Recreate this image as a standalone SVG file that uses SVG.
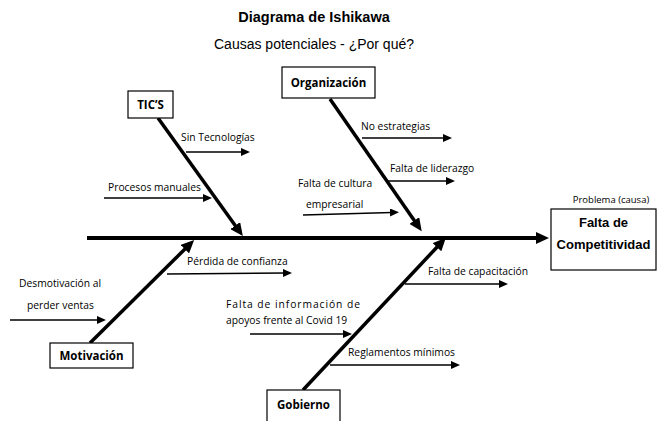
<svg xmlns="http://www.w3.org/2000/svg" width="657" height="421" viewBox="0 0 657 421">
<style>
.title{font-family:"Liberation Sans",Arial,sans-serif;font-size:14.5px;font-weight:bold;fill:#000}
.sub{font-family:"Liberation Sans",Arial,sans-serif;font-size:14px;fill:#000}
.lbl{font-family:"Open Sans","Noto Sans",sans-serif;font-size:10.3px;fill:#000}
.box{fill:#fff;stroke:#000;stroke-width:1.2}
.cat{font-family:"Open Sans","Noto Sans",sans-serif;font-size:11.5px;font-weight:bold;fill:#000}
.eff{font-family:"Liberation Sans",Arial,sans-serif;font-size:13px;font-weight:bold;fill:#000}
.small{font-family:"Open Sans","Noto Sans",sans-serif;font-size:9.5px;fill:#000}
.bone{stroke:#000;stroke-width:3.5;fill:none}
.spine{stroke:#000;stroke-width:4;fill:none}
.sub-arrow{stroke:#000;stroke-width:1.6;fill:none}
</style>
<defs>
<marker id="big" markerUnits="userSpaceOnUse" markerWidth="14" markerHeight="12" refX="3" refY="6" orient="auto">
<path d="M0,0 L13,6 L0,12 z" fill="#000"/>
</marker>
<marker id="small" markerUnits="userSpaceOnUse" markerWidth="10" markerHeight="8" refX="2" refY="4" orient="auto">
<path d="M0,0 L9,4 L0,8 z" fill="#000"/>
</marker>
</defs>
<rect width="657" height="421" fill="#fff"/>
<text class="title" x="314" y="22" text-anchor="middle">Diagrama de Ishikawa</text>
<text class="sub" x="314" y="49" text-anchor="middle">Causas potenciales - ¿Por qué?</text>

<g id="connectors">
<line class="spine" x1="87" y1="238" x2="539" y2="238" marker-end="url(#big)"/>
<line class="bone" x1="158" y1="118" x2="237" y2="228" marker-end="url(#big)"/>
<line class="bone" x1="330" y1="99" x2="416" y2="223" marker-end="url(#big)"/>
<line class="bone" x1="90" y1="343" x2="187" y2="247" marker-end="url(#big)"/>
<line class="bone" x1="303" y1="390" x2="439" y2="245" marker-end="url(#big)"/>
<line class="sub-arrow" x1="186" y1="152" x2="243" y2="152" marker-end="url(#small)"/>
<line class="sub-arrow" x1="104" y1="198" x2="205" y2="198" marker-end="url(#small)"/>
<line class="sub-arrow" x1="362" y1="138" x2="445" y2="138" marker-end="url(#small)"/>
<line class="sub-arrow" x1="388" y1="181" x2="448" y2="181" marker-end="url(#small)"/>
<line class="sub-arrow" x1="303" y1="215" x2="392" y2="212.5" marker-end="url(#small)"/>
<line class="sub-arrow" x1="167" y1="274" x2="285" y2="273" marker-end="url(#small)"/>
<line class="sub-arrow" x1="10" y1="320" x2="99" y2="320" marker-end="url(#small)"/>
<line class="sub-arrow" x1="405" y1="284" x2="501" y2="284" marker-end="url(#small)"/>
<line class="sub-arrow" x1="250" y1="334" x2="345" y2="334" marker-end="url(#small)"/>
<line class="sub-arrow" x1="330" y1="365" x2="453" y2="365" marker-end="url(#small)"/>
</g>

<g id="tics">
<rect class="box" x="128" y="91" width="45" height="27"/>
<text class="cat" x="150.5" y="109" text-anchor="middle">TIC’S</text>
</g>
<g id="organizacion">
<rect class="box" x="282" y="67" width="93" height="31"/>
<text class="cat" x="328.5" y="87" text-anchor="middle">Organización</text>
</g>
<g id="motivacion">
<rect class="box" x="50" y="343" width="83" height="25"/>
<text class="cat" x="91.5" y="360" text-anchor="middle">Motivación</text>
</g>
<g id="gobierno">
<rect class="box" x="267" y="390" width="73" height="40"/>
<text class="cat" x="303.5" y="409" text-anchor="middle">Gobierno</text>
</g>
<g id="efecto">
<text class="small" x="611" y="203" text-anchor="middle">Problema (causa)</text>
<rect class="box" x="551" y="209" width="105" height="61"/>
<text class="eff" x="603.5" y="227" text-anchor="middle">Falta de</text>
<text class="eff" x="603.5" y="249" text-anchor="middle">Competitividad</text>
</g>

<g id="labels">
<text class="lbl" x="181" y="141">Sin Tecnologías</text>
<text class="lbl" x="108" y="191">Procesos manuales</text>
<text class="lbl" x="361" y="130">No estrategias</text>
<text class="lbl" x="390" y="172">Falta de liderazgo</text>
<text class="lbl" x="298" y="187">Falta de cultura</text>
<text class="lbl" x="306" y="208">empresarial</text>
<text class="lbl" x="187" y="265">Pérdida de confianza</text>
<text class="lbl" x="19" y="287">Desmotivación al</text>
<text class="lbl" x="27" y="309">perder ventas</text>
<text class="lbl" x="428" y="275">Falta de capacitación</text>
<text class="lbl" x="226" y="308" textLength="134" lengthAdjust="spacing">Falta de información de</text>
<text class="lbl" x="226" y="324">apoyos frente al Covid 19</text>
<text class="lbl" x="348" y="356" textLength="107" lengthAdjust="spacing">Reglamentos mínimos</text>
</g>
</svg>
